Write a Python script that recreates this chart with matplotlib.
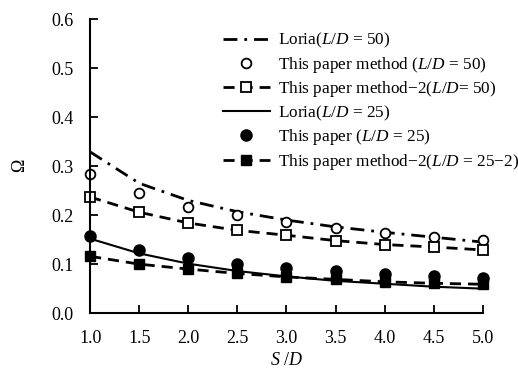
import numpy as np
import matplotlib.pyplot as plt

plt.rcParams["font.family"] = ["Liberation Serif", "DejaVu Serif"]
plt.rcParams["mathtext.fontset"] = "custom"
plt.rcParams["mathtext.rm"] = "Liberation Serif"
plt.rcParams["mathtext.it"] = "Liberation Serif:italic"

# S/D values
sd = [1.0, 1.5, 2.0, 2.5, 3.0, 3.5, 4.0, 4.5, 5.0]

# L/D = 50
loria_50 = [0.329, 0.265, 0.230, 0.207, 0.190, 0.176, 0.165, 0.155, 0.145]
paper_50 = [0.283, 0.246, 0.217, 0.200, 0.185, 0.174, 0.163, 0.156, 0.149]
method2_50 = [0.237, 0.206, 0.184, 0.169, 0.159, 0.148, 0.140, 0.135, 0.129]

# L/D = 25
loria_25 = [0.152, 0.122, 0.101, 0.086, 0.075, 0.066, 0.060, 0.054, 0.050]
paper_25 = [0.158, 0.129, 0.113, 0.101, 0.092, 0.086, 0.079, 0.076, 0.072]
method2_25 = [0.116, 0.100, 0.090, 0.081, 0.074, 0.069, 0.064, 0.061, 0.059]

fig = plt.figure(figsize=(5.18, 3.81), dpi=100)
ax = fig.add_axes([0.174, 0.178, 0.758, 0.772])

lw = 2.0
ax.plot(sd, loria_50, color="black", lw=lw, linestyle=(0, (5, 2.5, 1, 2.5)),
        label="Loria($L/D$ = 50)")
ax.plot(sd, paper_50, color="black", lw=0, marker="o", markersize=7,
        markerfacecolor="white", markeredgewidth=1.3,
        label="This paper method ($L/D$ = 50)")
ax.plot(sd, method2_50, color="black", lw=lw, linestyle=(0, (4, 2.5)),
        marker="s", markersize=7, markerfacecolor="white", markeredgewidth=1.3,
        label="This paper method\u22122($L/D$= 50)")
ax.plot(sd, loria_25, color="black", lw=1.5, linestyle="-",
        label="Loria($L/D$ = 25)")
ax.plot(sd, paper_25, color="black", lw=0, marker="o", markersize=8,
        label="This paper ($L/D$ = 25)")
ax.plot(sd, method2_25, color="black", lw=lw, linestyle=(0, (4, 2.5)),
        marker="s", markersize=7,
        label="This paper method\u22122($L/D$ = 25\u22122)")

ax.set_xlim(1.0, 5.0)
ax.set_ylim(0.0, 0.6)
ax.set_xticks(np.arange(1.0, 5.01, 0.5))
ax.set_yticks(np.arange(0.0, 0.61, 0.1))
ax.xaxis.set_major_formatter(plt.FormatStrFormatter("%.1f"))
ax.yaxis.set_major_formatter(plt.FormatStrFormatter("%.1f"))
ax.tick_params(direction="in", length=6, width=1.3, labelsize=13)
ax.tick_params(axis="x", pad=12)
ax.tick_params(axis="y", pad=12)
ax.spines["top"].set_visible(False)
ax.spines["right"].set_visible(False)
ax.spines["left"].set_linewidth(1.5)
ax.spines["bottom"].set_linewidth(1.5)
for line in ax.get_lines():
    line.set_clip_on(False)

ax.set_xlabel("$S$ /$D$", fontsize=13, labelpad=4)
ax.set_ylabel("$\\mathit{\\Omega}$", fontsize=13, labelpad=16)

fig.legend(loc="upper left", bbox_to_anchor=(223 / 518, 1 - 31 / 381),
           frameon=False, fontsize=12.4, handlelength=2.7, handletextpad=0.47,
           labelspacing=0.26, borderaxespad=0.0, borderpad=0.0)

fig.savefig("out.png", dpi=100)
